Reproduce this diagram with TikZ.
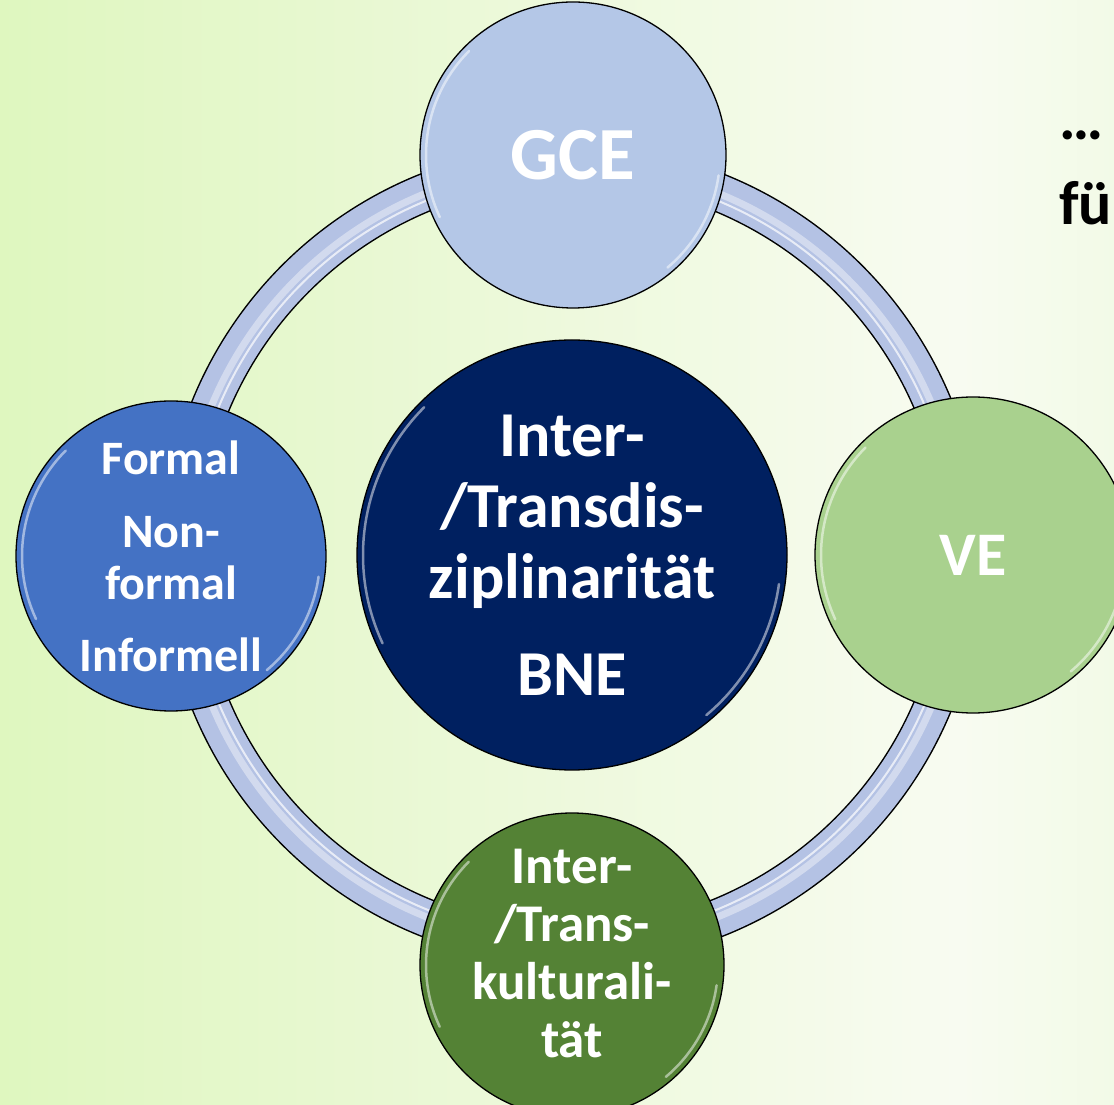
\documentclass[tikz,border=0pt]{standalone}
\usepackage{fontspec}
\setmainfont{Carlito}
\usetikzlibrary{positioning}

\definecolor{bgleft}{HTML}{D0F4A2}
\definecolor{bgmid}{HTML}{F8FBF1}
\definecolor{bgright}{HTML}{DDF8C4}
\definecolor{ringfill}{HTML}{B4C2E4}
\definecolor{gcefill}{HTML}{B4C7E7}
\definecolor{formfill}{HTML}{4472C4}
\definecolor{vefill}{HTML}{A9D18E}
\definecolor{kultfill}{HTML}{548235}
\definecolor{bnefill}{HTML}{002060}

\pgfdeclarehorizontalshading{bgshade}{100bp}{color(0bp)=(bgleft); color(68bp)=(bgmid); color(100bp)=(bgright)}

\begin{document}
\begin{tikzpicture}[x=1pt, y=1pt]
        % Define styles
        \tikzstyle{topic}=[circle, draw=black, line width=1.3pt, inner sep=0pt, text=white, align=center]
        \tikzstyle{gloss}=[white, opacity=0.5, line width=2.5pt, line cap=round]

        % Background
        \useasboundingbox (0,0) rectangle (1114,1104);
        \clip (0,0) rectangle (1114,1104);
        \shade[shading=bgshade] (0,0) rectangle (1114,1104);

        % Ring behind the circles
        \coordinate (hub) at (572,549);
        \draw[black, line width=39pt] (hub) circle[radius=391];
        \draw[ringfill, line width=36pt] (hub) circle[radius=391];
        \draw[white, opacity=0.4, line width=7pt] (hub) circle[radius=390];
        \draw[white, opacity=0.7, line width=2pt] (hub) circle[radius=383];

        % Outer circles
        \node[topic, fill=gcefill, minimum size=306, font=\bfseries\fontsize{75}{84}\selectfont] (gce) at (573,949) {GCE};
        \node[topic, fill=formfill, minimum size=310, font=\bfseries\fontsize{48}{52}\selectfont] (formal) at (171,548)
            {Formal\\[21pt]Non-\\formal\\[20pt]Informell};
        \node[topic, fill=vefill, minimum size=316, font=\bfseries\fontsize{62}{74}\selectfont] (ve) at (973,549) {VE};
        \node[topic, fill=kultfill, minimum size=304,
            label={[text=white, align=center, yshift=11, font=\bfseries\fontsize{53}{58}\selectfont]center:Inter-\\/Trans-\\kulturali-\\tät}]
            (kultur) at (572,139) {};

        % Centre circle
        \node[topic, fill=bnefill, minimum size=430, font=\bfseries\fontsize{64}{71}\selectfont] (bne) at (572,549)
            {Inter-\\/Transdis-\\ziplinarität\\[26pt]BNE};

        % Glossy rims
        \foreach \n/\r in {gce/153, formal/155, ve/158, kultur/152, bne/215} {
            \draw[gloss] (\n.center) ++(135:{\r-6}) arc[start angle=135, end angle=205, radius={\r-6}];
            \draw[gloss] (\n.center) ++(-8:{\r-6}) arc[start angle=-8, end angle=-50, radius={\r-6}];
        }

        % Text at the right edge
        \node[anchor=base west, inner sep=0pt, font=\bfseries\fontsize{62}{74}\selectfont] (more-1) at (1059,964) {…};
        \node[anchor=base west, inner sep=0pt, font=\bfseries\fontsize{62}{74}\selectfont] (more-2) at (1059,879) {fü};
    \end{tikzpicture}
\end{document}
